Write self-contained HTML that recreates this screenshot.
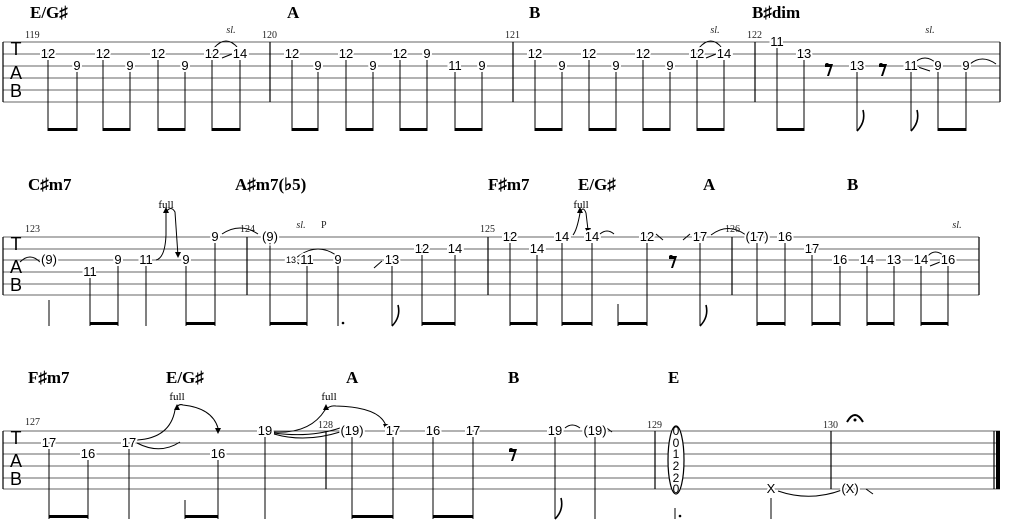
<!DOCTYPE html>
<html><head><meta charset="utf-8"><style>
html,body{margin:0;padding:0;background:#fff;}
svg{display:block}
.n{font-family:"Liberation Sans",sans-serif;font-size:13px;text-anchor:middle;paint-order:stroke;stroke:#fff;stroke-width:4px;fill:#000}
.s{font-size:9px}
.c{font-family:"Liberation Serif",serif;font-weight:bold;font-size:17px;fill:#000}
.m{font-family:"Liberation Serif",serif;font-size:10px;fill:#222}
.i{font-family:"Liberation Serif",serif;font-style:italic;font-size:10px;fill:#222;text-anchor:middle}
.f{font-family:"Liberation Serif",serif;font-size:11px;fill:#000;text-anchor:middle}
.tab{font-family:"Liberation Sans",sans-serif;font-size:18px;fill:#000;text-anchor:middle}
</style></head><body>
<svg width="1024" height="531" viewBox="0 0 1024 531" xmlns="http://www.w3.org/2000/svg">
<g stroke="#666" stroke-width="1" fill="none">
<path d="M3 42H1000M3 54H1000M3 66H1000M3 78H1000M3 90H1000M3 102H1000"/>
<path d="M3 237H979M3 249H979M3 260H979M3 272H979M3 284H979M3 295H979"/>
<path d="M3 431H1000M3 443H1000M3 454H1000M3 466H1000M3 478H1000M3 489H1000"/>
</g>
<g stroke="#000" stroke-width="1.2" fill="none">
<path d="M3 42V102M270 42V102M513 42V102M755 42V102M1000 42V102"/>
<path d="M3 237V295M247 237V295M488 237V295M732 237V295M979 237V295"/>
<path d="M3 431V489M326 431V489M655 431V489M831 431V489M994 431V489"/>
</g>
<rect x="996" y="431" width="4" height="58" fill="#000"/>
<!-- TAB -->
<text class="tab" x="16" y="55">T</text><text class="tab" x="16" y="79">A</text><text class="tab" x="16" y="97">B</text>
<text class="tab" x="16" y="250">T</text><text class="tab" x="16" y="273">A</text><text class="tab" x="16" y="291">B</text>
<text class="tab" x="16" y="444">T</text><text class="tab" x="16" y="467">A</text><text class="tab" x="16" y="485">B</text>
<!-- chords -->
<text class="c" x="30" y="18">E/G♯</text><text class="c" x="287" y="18">A</text><text class="c" x="529" y="18">B</text><text class="c" x="752" y="18">B♯dim</text>
<text class="c" x="28" y="190">C♯m7</text><text class="c" x="235" y="190">A♯m7(♭5)</text><text class="c" x="488" y="190">F♯m7</text><text class="c" x="578" y="190">E/G♯</text><text class="c" x="703" y="190">A</text><text class="c" x="847" y="190">B</text>
<text class="c" x="28" y="383">F♯m7</text><text class="c" x="166" y="383">E/G♯</text><text class="c" x="346" y="383">A</text><text class="c" x="508" y="383">B</text><text class="c" x="668" y="383">E</text>
<!-- measure numbers -->
<text class="m" x="25" y="38">119</text><text class="m" x="262" y="38">120</text><text class="m" x="505" y="38">121</text><text class="m" x="747" y="38">122</text>
<text class="m" x="25" y="232">123</text><text class="m" x="240" y="232">124</text><text class="m" x="480" y="232">125</text><text class="m" x="725" y="232">126</text>
<text class="m" x="25" y="425">127</text><text class="m" x="318" y="428">128</text><text class="m" x="647" y="428">129</text><text class="m" x="823" y="428">130</text>
<!-- stems -->
<g stroke="#000" stroke-width="1" fill="none">
<path d="M48 58V131M77 70V131M103 58V131M130 70V131M158 58V131M185 70V131M212 58V131M240 58V131M292 58V131M318 70V131M346 58V131M373 70V131M400 58V131M427 58V131M455 70V131M482 70V131M535 58V131M562 70V131M589 58V131M616 70V131M643 58V131M670 70V131M697 58V131M724 58V131M777 46V131M804 58V131M857 70V131M911 70V131M938 70V131M966 70V131"/>
<path d="M49 300V326M90 276V326M118 264V326M146 264V326M186 264V326M215 241V326M270 241V326M307 264V326M338 264V326M392 264V326M422 253V326M455 253V326M510 241V326M537 253V326M562 241V326M592 241V326M618 304V326M647 241V326M700 241V326M757 241V326M785 241V326M812 253V326M840 264V326M867 264V326M894 264V326M921 264V326M948 264V326"/>
<path d="M49 447V519M88 458V519M129 447V519M185 500V519M218 458V519M265 435V519M352 435V519M393 435V519M433 435V519M473 435V519M555 435V519M595 435V519M675 508V519M771 498V519"/>
</g>
<g fill="#000">
<rect x="48" y="128" width="29" height="3"/><rect x="103" y="128" width="27" height="3"/><rect x="158" y="128" width="27" height="3"/><rect x="212" y="128" width="28" height="3"/>
<rect x="292" y="128" width="26" height="3"/><rect x="346" y="128" width="27" height="3"/><rect x="400" y="128" width="27" height="3"/><rect x="455" y="128" width="27" height="3"/>
<rect x="535" y="128" width="27" height="3"/><rect x="589" y="128" width="27" height="3"/><rect x="643" y="128" width="27" height="3"/><rect x="697" y="128" width="27" height="3"/>
<rect x="777" y="128" width="27" height="3"/><rect x="938" y="128" width="28" height="3"/>
<rect x="90" y="322" width="28" height="3"/><rect x="186" y="322" width="29" height="3"/><rect x="270" y="322" width="37" height="3"/><rect x="422" y="322" width="33" height="3"/>
<rect x="510" y="322" width="27" height="3"/><rect x="562" y="322" width="30" height="3"/><rect x="618" y="322" width="29" height="3"/><rect x="757" y="322" width="28" height="3"/><rect x="812" y="322" width="28" height="3"/><rect x="867" y="322" width="27" height="3"/><rect x="921" y="322" width="27" height="3"/>
<rect x="49" y="515" width="39" height="3"/><rect x="185" y="515" width="33" height="3"/><rect x="352" y="515" width="41" height="3"/><rect x="433" y="515" width="40" height="3"/>
<circle cx="343" cy="323" r="1.3"/><circle cx="680" cy="516" r="1.3"/>
</g>
<!-- flags -->
<g stroke="#000" stroke-width="1.6" fill="none">
<path d="M857 131Q866 122 863 110"/><path d="M911 131Q920 122 917 110"/><path d="M392 326Q401 317 398 305"/><path d="M700 326Q709 317 706 305"/><path d="M555 519Q564 510 561 498"/>
</g>
<!-- rests -->
<g fill="#000"><path d="M825 64l8 0l-4 12h-2l3-9h-5z"/><path d="M879 64l8 0l-4 12h-2l3-9h-5z"/><path d="M669 256l8 0l-4 12h-2l3-9h-5z"/><path d="M509 449l8 0l-4 12h-2l3-9h-5z"/>
<circle cx="827" cy="65" r="2"/><circle cx="881" cy="65" r="2"/><circle cx="671" cy="257" r="2"/><circle cx="511" cy="450" r="2"/></g>
<!-- slurs / slides -->
<g stroke="#000" stroke-width="1" fill="none">
<path d="M214 48Q226 34 238 48"/><path d="M222 58L232 54"/>
<path d="M699 48Q711 34 722 48"/><path d="M706 58L716 54"/>
<path d="M913 64Q925 52 937 64"/><path d="M918 67L930 71"/>
<path d="M970 64Q982 54 996 64"/>
<path d="M20 262Q30 252 40 262"/>
<path d="M156 260Q165 258 166 235L166 212Q171 205 175 212L178 256"/>
<path d="M222 234Q240 222 258 234"/>
<path d="M296 258Q318 240 340 258"/><path d="M294 259L299 264"/>
<path d="M374 268L382 261"/>
<path d="M573 235Q577 230 580 213Q583 205 586 213L588 230"/>
<path d="M600 234Q607 228 614 234"/>
<path d="M656 234L663 240"/><path d="M683 240L690 234"/>
<path d="M711 235Q728 222 746 235"/>
<path d="M927 257Q935 247 945 257"/><path d="M930 266L940 262"/>
<path d="M137 440Q170 438 175 410Q178 403 183 405Q212 408 218 428"/>
<path d="M137 443Q160 455 180 442"/>
<path d="M274 432Q310 434 325 410Q330 405 336 406Q380 407 386 426"/>
<path d="M274 434Q305 443 340 432"/><path d="M274 433Q310 438 340 428"/>
<path d="M565 428Q572 422 580 428"/><path d="M604 426L612 432"/>
<path d="M778 491Q810 502 842 490"/><path d="M866 489L873 494"/>
</g>
<g fill="#000">
<path d="M163 213l3-6l3 6z"/><path d="M175 252l3 6l3-6z"/><path d="M577 213l3-6l3 6z"/><path d="M585 228l3 6l3-6z"/>
<path d="M174 410l3-6l3 6z"/><path d="M215 428l3 6l3-6z"/><path d="M323 410l3-6l3 6z"/><path d="M383 424l3 6l3-6z"/>
</g>
<g class="n">
<text x="48" y="58">12</text><text x="77" y="70">9</text><text x="103" y="58">12</text><text x="130" y="70">9</text><text x="158" y="58">12</text><text x="185" y="70">9</text><text x="212" y="58">12</text><text x="240" y="58">14</text>
<text x="292" y="58">12</text><text x="318" y="70">9</text><text x="346" y="58">12</text><text x="373" y="70">9</text><text x="400" y="58">12</text><text x="427" y="58">9</text><text x="455" y="70">11</text><text x="482" y="70">9</text>
<text x="535" y="58">12</text><text x="562" y="70">9</text><text x="589" y="58">12</text><text x="616" y="70">9</text><text x="643" y="58">12</text><text x="670" y="70">9</text><text x="697" y="58">12</text><text x="724" y="58">14</text>
<text x="777" y="46">11</text><text x="804" y="58">13</text><text x="857" y="70">13</text><text x="911" y="70">11</text><text x="938" y="70">9</text><text x="966" y="70">9</text>
<text x="49" y="264">(9)</text><text x="90" y="276">11</text><text x="118" y="264">9</text><text x="146" y="264">11</text><text x="186" y="264">9</text><text x="215" y="241">9</text>
<text x="270" y="241">(9)</text><text x="291" y="263" class="n s">13</text><text x="307" y="264">11</text><text x="338" y="264">9</text><text x="392" y="264">13</text><text x="422" y="253">12</text><text x="455" y="253">14</text>
<text x="510" y="241">12</text><text x="537" y="253">14</text><text x="562" y="241">14</text><text x="592" y="241">14</text><text x="647" y="241">12</text><text x="700" y="241">17</text>
<text x="757" y="241">(17)</text><text x="785" y="241">16</text><text x="812" y="253">17</text><text x="840" y="264">16</text><text x="867" y="264">14</text><text x="894" y="264">13</text><text x="921" y="264">14</text><text x="948" y="264">16</text>
<text x="49" y="447">17</text><text x="88" y="458">16</text><text x="129" y="447">17</text><text x="218" y="458">16</text><text x="265" y="435">19</text>
<text x="352" y="435">(19)</text><text x="393" y="435">17</text><text x="433" y="435">16</text><text x="473" y="435">17</text><text x="555" y="435">19</text><text x="595" y="435">(19)</text>
<text x="771" y="493">X</text><text x="850" y="493">(X)</text>
</g>
<ellipse cx="676" cy="460" rx="8" ry="34" fill="#fff" stroke="#000" stroke-width="1.2"/>
<g class="n" style="stroke:none;font-size:12px">
<text x="676" y="435">0</text><text x="676" y="447">0</text><text x="676" y="458">1</text><text x="676" y="470">2</text><text x="676" y="482">2</text><text x="676" y="493">0</text>
</g>
<path d="M847 422Q855 408 863 422" stroke="#000" stroke-width="2" fill="none"/><circle cx="855" cy="420" r="1.5" fill="#000"/>
<text class="i" x="715" y="33">sl.</text><text class="i" x="231" y="33">sl.</text><text class="i" x="930" y="33">sl.</text>
<text class="i" x="301" y="228">sl.</text><text class="m" x="321" y="228">P</text><text class="i" x="957" y="228">sl.</text>
<text class="f" x="166" y="208">full</text><text class="f" x="581" y="208">full</text>
<text class="f" x="177" y="400">full</text><text class="f" x="329" y="400">full</text>
</svg>
</body></html>
